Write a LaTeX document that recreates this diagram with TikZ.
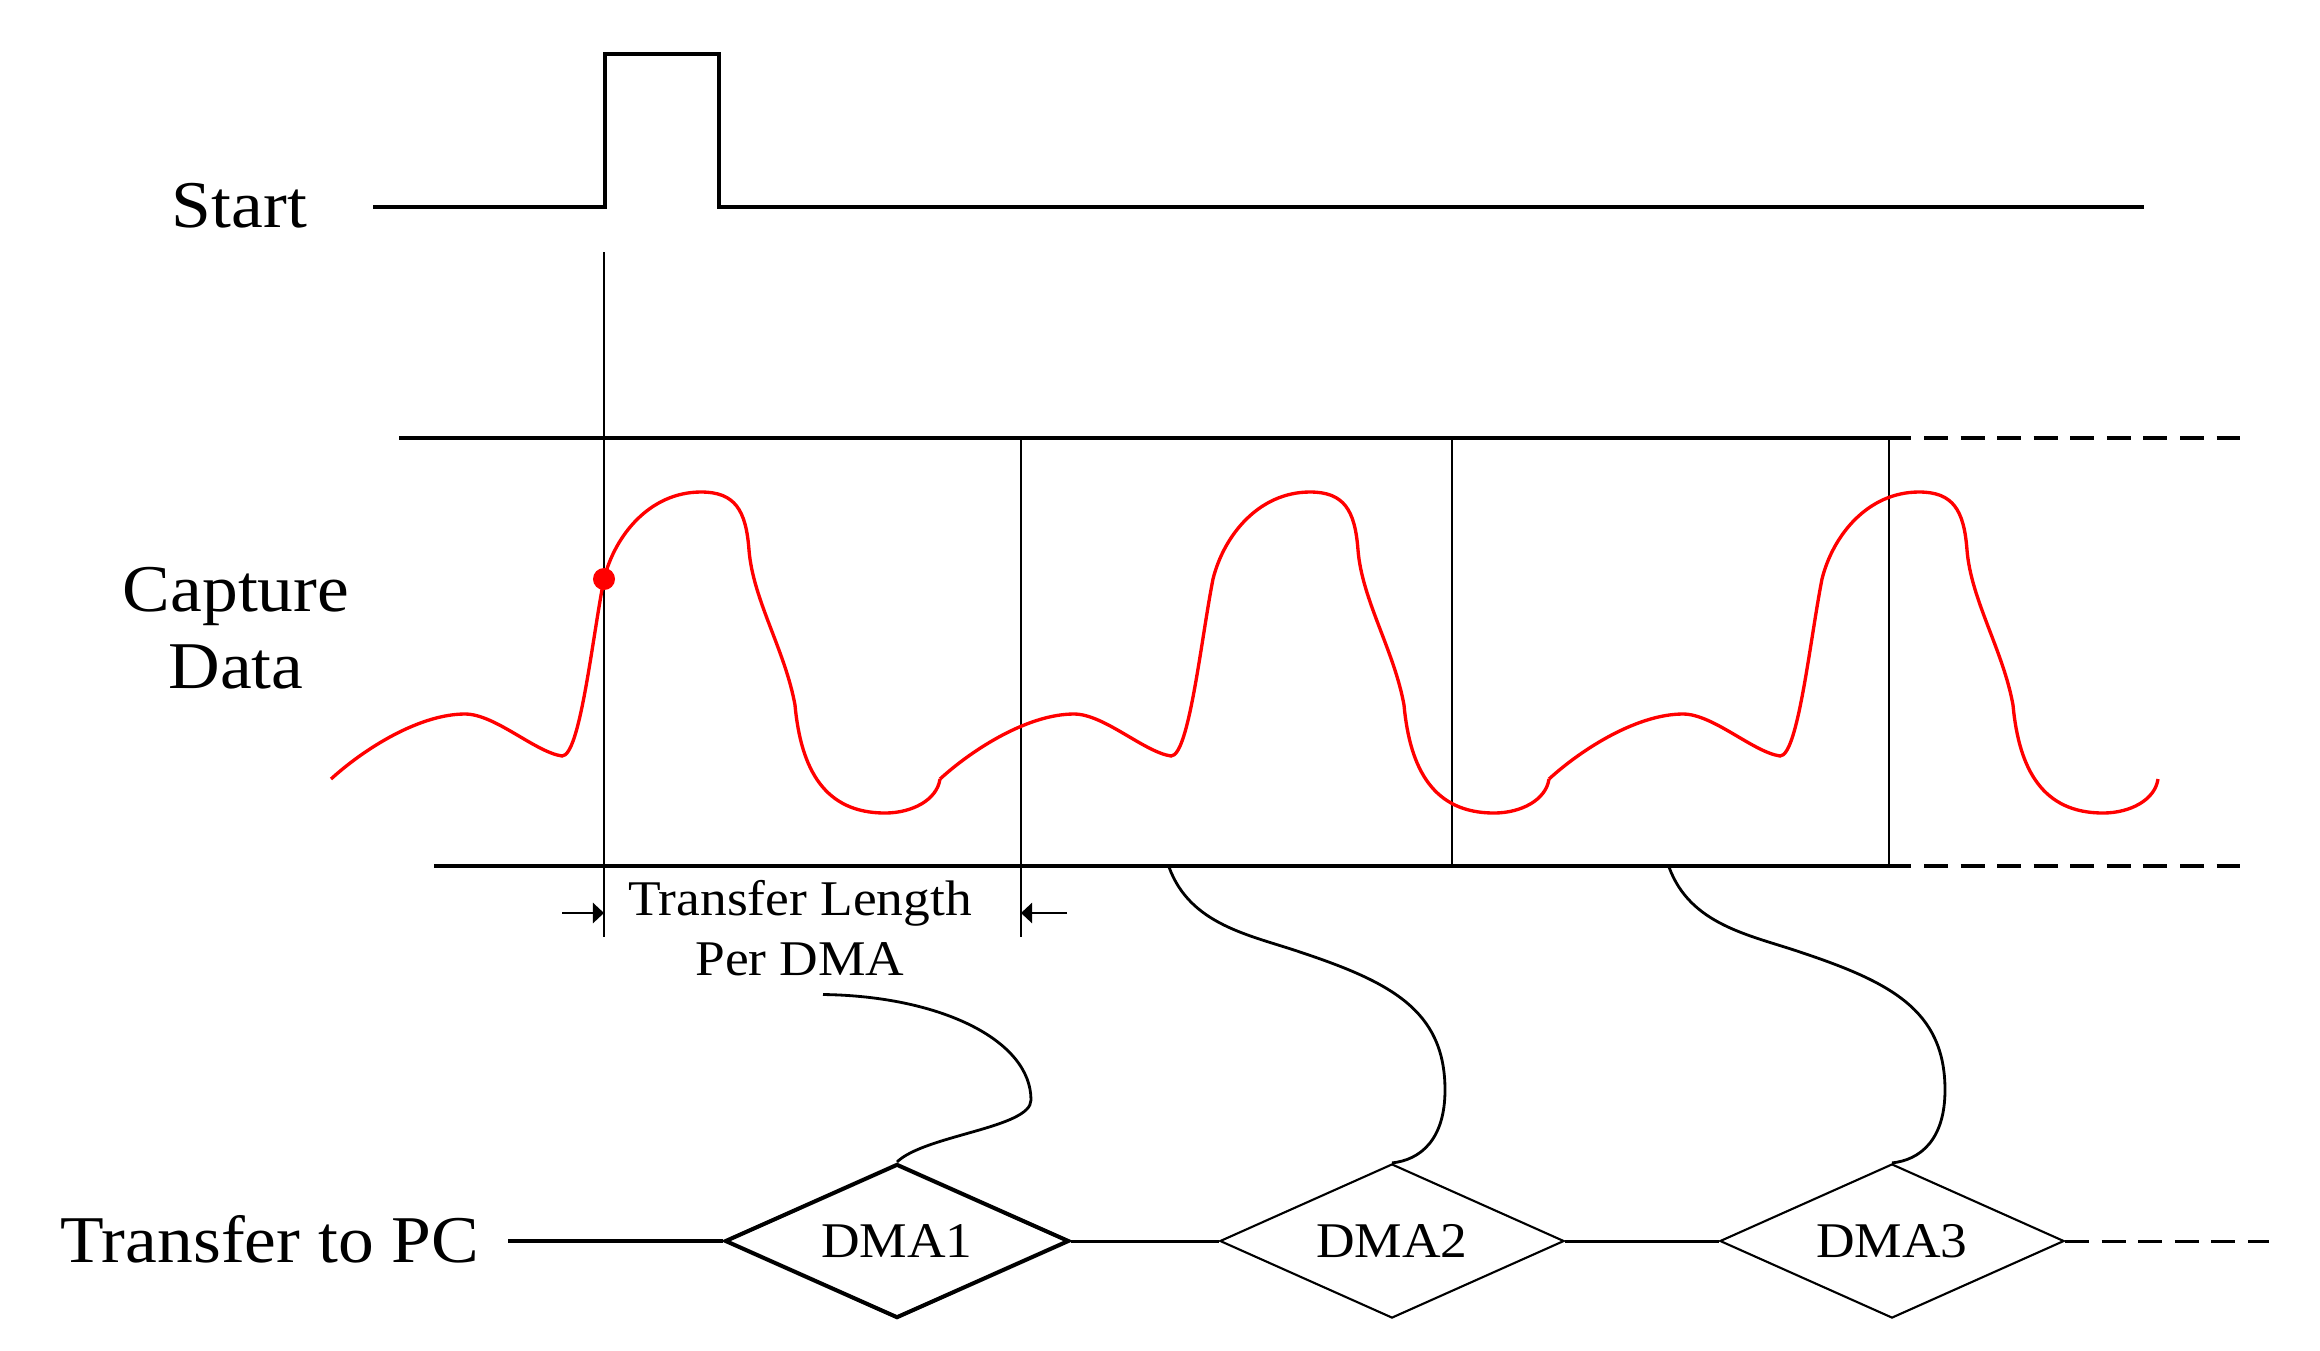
\documentclass[tikz,border=0pt]{standalone}
\usepackage{fontspec}
\setmainfont{Liberation Serif}[FakeStretch=1.07]
\usetikzlibrary{shapes.geometric,arrows.meta}
\begin{document}
\begin{tikzpicture}[x=0.01cm,y=-0.01cm,
  bigtxt/.style={font=\fontsize{19}{21.9}\selectfont, inner sep=0pt},
  smalltxt/.style={font=\fontsize{14.2}{17.1}\selectfont, inner sep=0pt},
  sig/.style={line width=1.1pt},
  rail/.style={line width=1.0pt},
  thinv/.style={line width=0.65pt},
  wave/.style={red, line width=0.95pt},
  dmabox/.style={diamond, aspect=2.23, draw, line width=0.6pt, minimum width=3.44cm, minimum height=1.54cm, inner sep=0pt, font=\fontsize{14.2}{17}\selectfont},
  conn/.style={line width=0.8pt},
  dashln/.style={dash pattern=on 6.8pt off 3.6pt}
]
\useasboundingbox (0,0) rectangle (2320,1350);

% Start signal
\node[bigtxt, anchor=base] (start) at (239.5,227.5) {Start};
\draw[sig] (373,207) -- (605,207) -- (605,54) -- (719,54) -- (719,207) -- (2144,207);

% capture rails
\draw[rail] (399,438) -- (1911,438);
\draw[rail, dashln] (1924,438) -- (2240,438);
\draw[rail] (434,866) -- (1911,866);
\draw[rail, dashln] (1924,866) -- (2240,866);

% vertical markers
\draw[thinv] (604,252) -- (604,937);
\draw[thinv] (1021,438) -- (1021,937);
\draw[thinv] (1452,438) -- (1452,866);
\draw[line width=0.8pt] (1889,438) -- (1889,866);

% captured waveform
\foreach \i in {0,1,2}{
 \draw[wave, shift={(\i*609,0)}] (331,779) .. controls (365,748) and (420,714) .. (465,714)
   .. controls (495,714) and (535,752) .. (562,756)
   .. controls (580,756) and (592,640) .. (604,579)
   .. controls (615,535) and (650,492) .. (701,492)
   .. controls (735,492) and (746,510) .. (749,550)
   .. controls (753,600) and (785,650) .. (795,705)
   .. controls (801,770) and (825,813) .. (885,813)
   .. controls (912,813) and (937,800) .. (940,779);
}
\node[circle, fill=red, inner sep=0pt, minimum size=0.22cm] (dot) at (604,579) {};

\node[bigtxt, align=center] (cap) at (236,628) {Capture\\Data};

% transfer length
\node[smalltxt, align=center] (tl) at (800,928) {Transfer Length\\Per DMA};
\coordinate (al) at (562,913);
\coordinate (alt) at (604,913);
\coordinate (ar) at (1067,913);
\coordinate (art) at (1021,913);
\draw[thinv, -{Triangle[length=0.11cm,width=0.2cm]}] (al) -- (alt);
\draw[thinv, -{Triangle[length=0.11cm,width=0.2cm]}] (ar) -- (art);

% DMA row
\node[bigtxt, anchor=base] (tpc) at (270,1262) {Transfer to PC};
\node[dmabox, line width=1.15pt] (dma1) at (897,1241) {DMA1};
\node[dmabox] (dma2) at (1392,1241) {DMA2};
\node[dmabox] (dma3) at (1892,1241) {DMA3};
\coordinate (t0) at (508,1241);
\coordinate (tend) at (2269,1241);
\draw[line width=1pt] (t0) -- (dma1.west);
\draw[line width=0.85pt] (dma1.east) -- (dma2.west);
\draw[line width=0.85pt] (dma2.east) -- (dma3.west);
\draw[line width=0.85pt, dashln] (dma3.east) -- (tend);

% connectors
\coordinate (c1) at (823,994.5);
\draw[conn] (c1) .. controls (940,996) and (1031,1040) .. (1031,1100)
  .. controls (1031,1128) and (925,1135) .. (dma1.north);
\coordinate (c2) at (1169,867);
\draw[conn] (c2) .. controls (1190,925) and (1250,935) .. (1300,952)
  .. controls (1390,982) and (1445,1010) .. (1445,1090)
  .. controls (1445,1140) and (1420,1160) .. (dma2.north);
\coordinate (c3) at (1669,867);
\draw[conn] (c3) .. controls (1690,925) and (1750,935) .. (1800,952)
  .. controls (1890,982) and (1945,1010) .. (1945,1090)
  .. controls (1945,1140) and (1920,1160) .. (dma3.north);
\end{tikzpicture}
\end{document}
